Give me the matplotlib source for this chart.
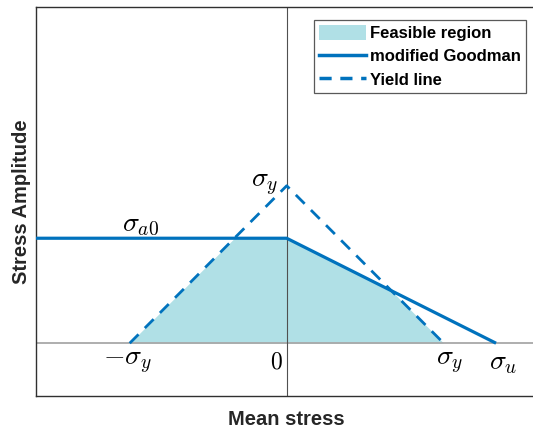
import numpy as np
import matplotlib
matplotlib.use("Agg")
import matplotlib.pyplot as plt
from matplotlib.patches import Patch
from matplotlib.lines import Line2D

# Data (stress values, MPa-like units)
sigma_y = 300.0      # yield strength
sigma_u = 400.0      # ultimate strength
sigma_a0 = 200.0     # endurance amplitude at zero mean
x_limits = [-480, 480]
y_limits = [-100, 640]
legend_labels = ["Feasible region", "modified Goodman", "Yield line"]

blue = "#0072BD"
fill_col = "#B0E0E6"

plt.rcParams["mathtext.fontset"] = "cm"
plt.rcParams["font.family"] = ["Liberation Sans", "DejaVu Sans"]

fig = plt.figure(figsize=(5.33, 4.33), dpi=100)
ax = fig.add_axes([35.5 / 533, (433 - 395.7) / 433, 502.4 / 533, 388.4 / 433])

# Goodman line
gx = np.array([x_limits[0], 0.0, sigma_u])
gy = np.array([sigma_a0, sigma_a0, 0.0])
# Yield line
yx = np.array([-sigma_y, 0.0, sigma_y])
yy = np.array([0.0, sigma_y, 0.0])

# Feasible region: under both lines
xs = np.linspace(-sigma_y, sigma_y, 2001)
good = np.interp(xs, gx, gy)
yld = np.interp(xs, yx, yy)
ax.fill_between(xs, 0, np.minimum(good, yld), color=fill_col, lw=0, zorder=1)

ax.axhline(0, color="#a8a8a8", lw=1.3, zorder=2)
ax.axvline(0, color="#505050", lw=0.8, zorder=2)

ax.plot(gx, gy, color=blue, lw=2.3, solid_capstyle="butt", zorder=4)
ax.plot(yx, yy, color=blue, lw=2.0, ls=(0, (4.5, 3.2)), zorder=3)

ax.set_xlim(x_limits)
ax.set_ylim(y_limits)
ax.set_xticks([])
ax.set_yticks([])
for s in ["left", "top", "bottom", "right"]:
    ax.spines[s].set_color("#303030")
    ax.spines[s].set_linewidth(1.0)

fs = 20
ax.text(-sigma_y - 4, -12, r"$-\sigma_y$", ha="center", va="top", fontsize=fs)
ax.text(-20, -15, r"$0$", ha="center", va="top", fontsize=17)
ax.text(sigma_y + 12, -12, r"$\sigma_y$", ha="center", va="top", fontsize=fs)
ax.text(sigma_u + 14, -12, r"$\sigma_u$", ha="center", va="top", fontsize=fs)
ax.text(-16, sigma_y - 2, r"$\sigma_y$", ha="right", va="baseline", fontsize=fs)
ax.text(-280, sigma_a0 + 14, r"$\sigma_{a0}$", ha="center", va="baseline", fontsize=fs)

ax.set_xlabel("Mean stress", fontsize=14.5, fontweight="bold", color="#262626", labelpad=10)
ax.set_ylabel("Stress Amplitude", fontsize=14.5, fontweight="bold", color="#262626", labelpad=3.5)

handles = [
    Patch(facecolor=fill_col, edgecolor="none"),
    Line2D([], [], color=blue, lw=2.5),
    Line2D([], [], color=blue, lw=2.5, ls=(0, (3.5, 2.5))),
]
leg = ax.legend(handles, legend_labels, loc="upper right", bbox_to_anchor=(0.976, 0.967),
                prop={"weight": "bold", "size": 12}, frameon=True, fancybox=False,
                edgecolor="#303030", handlelength=2.8, handletextpad=0.25,
                handleheight=1.0, labelspacing=0.42, borderpad=0.3, borderaxespad=0.0)
leg.get_frame().set_linewidth(0.9)

fig.savefig("out.png", dpi=100)
